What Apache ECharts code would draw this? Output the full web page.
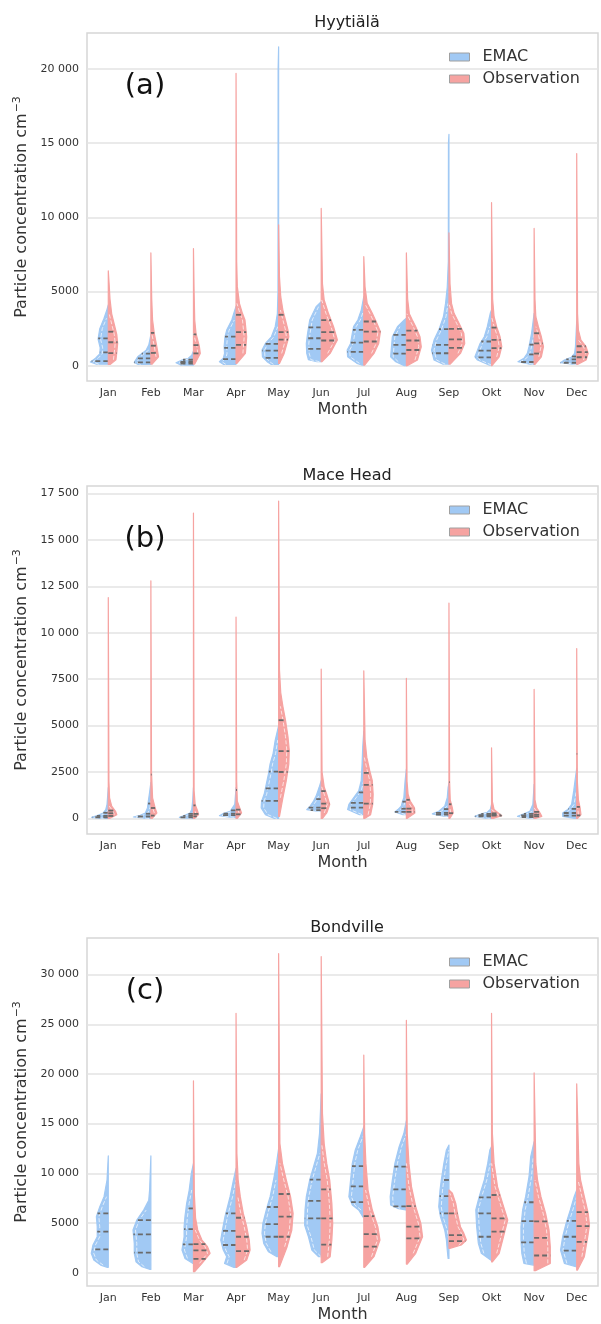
<!DOCTYPE html>
<html>
<head>
<meta charset="utf-8">
<script src="https://cdn.jsdelivr.net/npm/echarts@6/dist/echarts.min.js"></script>
<style>
    html, body { margin: 0; padding: 0; background: #fff; }
    #chart { width: 601px; height: 1324px; }
</style>
</head>
<body>
<div id="chart"></div>
<script>
var months = ['Jan', 'Feb', 'Mar', 'Apr', 'May', 'Jun', 'Jul', 'Aug', 'Sep', 'Okt', 'Nov', 'Dec'];
var seriesNames = ['EMAC', 'Observation'];

// violin profiles: per month a list of [concentration, half width (share of the month band)]
// Hyytiälä
var hyyEmac = [
    [[100,0.28],[250,0.42],[500,0.3],[800,0.2],[1200,0.19],[1800,0.24],[2500,0.2],[3200,0.1],[3700,0.04],[4100,0]],
    [[90,0.3],[225,0.39],[600,0.31],[830,0.21],[1050,0.11],[1390,0.05],[1800,0.02],[2100,0]],
    [[45,0.3],[200,0.41],[380,0.27],[500,0.12],[700,0.04],[1000,0]],
    [[90,0.3],[270,0.39],[500,0.3],[830,0.27],[1280,0.28],[1950,0.26],[2400,0.22],[3080,0.1],[3750,0.03],[4000,0]],
    [[90,0.18],[270,0.27],[600,0.38],[1050,0.39],[1500,0.31],[1950,0.17],[2630,0.08],[3500,0.03],[5000,0.015],[20000,0.012],[21500,0]],
    [[270,0.1],[400,0.3],[830,0.34],[1500,0.35],[2180,0.32],[3080,0.27],[3980,0.12],[4310,0]],
    [[45,0.05],[157,0.16],[600,0.38],[1050,0.39],[1500,0.31],[2180,0.27],[2630,0.24],[3080,0.14],[3750,0.06],[4650,0]],
    [[0,0.05],[270,0.25],[600,0.37],[1280,0.35],[1950,0.33],[2630,0.21],[3080,0.05],[3200,0]],
    [[110,0.15],[380,0.35],[1050,0.41],[1730,0.35],[2400,0.24],[3300,0.13],[4200,0.08],[5300,0.04],[7000,0.015],[15000,0.012],[15600,0]],
    [[45,0.06],[380,0.33],[600,0.39],[1050,0.33],[1500,0.27],[1950,0.17],[2630,0.1],[3530,0.03],[3750,0]],
    [[90,0.08],[270,0.38],[500,0.24],[830,0.16],[1280,0.12],[2180,0.06],[3080,0.02],[3530,0]],
    [[90,0.06],[200,0.38],[380,0.29],[560,0.13],[830,0.05],[1280,0.03],[3000,0]]
];
var hyyEmacQ = [[315,900,1843],[225,500,820],[150,250,400],[440,1200,1960],[530,1020,1470],[1140,1850,2580],
    [930,1560,2410],[820,1400,2080],[840,1400,2460],[560,1020,1630],[250,760,1420],[200,430,620]];
var hyyObs = [
    [[90,0.05],[400,0.18],[900,0.2],[1500,0.22],[2100,0.2],[2800,0.14],[3500,0.08],[4500,0.04],[5500,0.02],[6400,0]],
    [[110,0.03],[600,0.18],[1280,0.14],[2180,0.08],[3080,0.04],[4500,0.02],[7600,0]],
    [[110,0.03],[830,0.16],[1280,0.14],[2180,0.06],[3080,0.03],[5000,0.015],[7900,0]],
    [[150,0.02],[830,0.22],[1950,0.25],[3080,0.21],[3530,0.15],[4200,0.08],[5330,0.03],[7000,0.015],[19700,0]],
    [[157,0.02],[830,0.13],[1950,0.24],[2400,0.22],[3080,0.16],[3750,0.1],[4650,0.05],[6000,0.02],[9500,0]],
    [[270,0.02],[830,0.21],[1730,0.38],[2630,0.29],[3530,0.17],[4430,0.07],[5500,0.03],[10600,0]],
    [[45,0.02],[830,0.24],[1500,0.35],[2290,0.39],[2850,0.31],[3530,0.2],[4200,0.08],[5300,0.03],[7350,0]],
    [[0,0.02],[380,0.26],[1280,0.35],[1950,0.32],[2630,0.22],[3080,0.14],[3500,0.07],[4500,0.03],[7600,0]],
    [[110,0.03],[830,0.27],[1500,0.37],[2180,0.35],[2850,0.24],[3530,0.12],[4200,0.06],[5500,0.025],[8950,0]],
    [[0,0.01],[600,0.18],[1280,0.24],[1950,0.2],[2630,0.12],[3300,0.06],[4500,0.025],[11000,0]],
    [[90,0.02],[600,0.17],[1280,0.22],[1950,0.17],[2630,0.1],[3300,0.04],[4500,0.02],[9250,0]],
    [[90,0.02],[380,0.22],[830,0.27],[1280,0.22],[1730,0.1],[2400,0.04],[3500,0.02],[14300,0]]
];
var hyyObsQ = [[850,1580,2290],[860,1350,2210],[830,1390,2110],[1400,2260,3430],[1760,2260,3430],[1700,2260,3070],
    [1630,2300,2980],[1060,1700,2360],[1200,1780,2480],[1180,1740,2570],[820,1500,2190],[570,910,1310]];

// Mace Head
var maceEmac = [
    [[0,0.15],[55,0.39],[146,0.26],[290,0.12],[475,0.06],[750,0.03],[1660,0]],
    [[0,0.1],[73,0.41],[164,0.25],[290,0.13],[565,0.08],[930,0.06],[1400,0.03],[1940,0]],
    [[0,0.1],[55,0.33],[146,0.22],[290,0.08],[475,0.04],[900,0.02],[1660,0]],
    [[55,0.1],[146,0.39],[255,0.3],[383,0.14],[750,0.03],[1660,0]],
    [[0,0.1],[200,0.31],[565,0.41],[930,0.4],[1300,0.34],[1840,0.29],[2390,0.24],[2940,0.2],[3490,0.13],[4220,0.08],[5000,0]],
    [[383,0.1],[475,0.34],[660,0.26],[930,0.18],[1200,0.12],[1660,0.05],[2030,0]],
    [[200,0.1],[475,0.38],[750,0.35],[1110,0.24],[1480,0.12],[2030,0.06],[2940,0.04],[3850,0.025],[4700,0]],
    [[200,0.08],[350,0.27],[475,0.2],[660,0.12],[930,0.09],[1110,0.06],[2030,0.03],[2660,0]],
    [[110,0.1],[240,0.39],[380,0.24],[660,0.1],[1110,0.04],[1660,0.02],[1900,0]],
    [[0,0.1],[110,0.39],[240,0.24],[330,0.1],[475,0.03],[750,0]],
    [[0,0.08],[110,0.39],[240,0.24],[383,0.1],[750,0.03],[1840,0]],
    [[0,0.05],[110,0.33],[290,0.33],[475,0.21],[750,0.12],[1480,0.07],[2030,0.04],[2700,0]]
];
var maceEmacQ = [[60,140,300],[100,250,800],[55,130,240],[180,260,430],[940,1620,2520],[440,580,1040],
    [580,840,1400],[350,520,900],[210,300,500],[110,170,240],[75,165,240],[146,290,510]];
var maceObs = [
    [[0,0.03],[200,0.2],[383,0.17],[660,0.08],[1110,0.03],[2000,0.015],[11900,0]],
    [[0,0.03],[290,0.14],[565,0.1],[1110,0.04],[2500,0.015],[12800,0]],
    [[0,0.03],[200,0.12],[380,0.1],[750,0.04],[1500,0.015],[16450,0]],
    [[0,0.03],[290,0.13],[475,0.1],[930,0.03],[2000,0.015],[10850,0]],
    [[110,0.02],[1110,0.1],[2030,0.18],[2940,0.24],[3670,0.25],[4400,0.22],[5310,0.16],[6040,0.1],[6770,0.05],[8000,0.02],[17100,0]],
    [[0,0.03],[290,0.13],[750,0.2],[1300,0.13],[1700,0.07],[2500,0.02],[8050,0]],
    [[0,0.02],[200,0.16],[750,0.21],[1300,0.22],[2030,0.2],[2570,0.14],[3300,0.07],[4200,0.03],[7950,0]],
    [[0,0.02],[290,0.2],[565,0.19],[930,0.09],[1300,0.04],[2000,0.015],[7550,0]],
    [[0,0.02],[290,0.1],[565,0.08],[1000,0.03],[2000,0.015],[11600,0]],
    [[0,0.04],[146,0.24],[290,0.16],[475,0.06],[900,0.02],[3800,0]],
    [[0,0.03],[110,0.18],[290,0.14],[565,0.06],[1000,0.02],[6950,0]],
    [[0,0.02],[200,0.1],[565,0.08],[1000,0.04],[2000,0.015],[9150,0]]
];
var maceObsQ = [[130,275,420],[150,560,2360],[110,240,700],[220,470,1530],[2500,3620,5290],[550,800,1470],
    [800,1800,2450],[350,530,1000],[280,760,1950],[146,200,270],[110,200,350],[160,620,3480]];

// Bondville
var bondEmac = [
    [[540,0.02],[770,0.18],[1275,0.34],[1950,0.4],[2790,0.36],[3620,0.26],[4630,0.26],[5640,0.28],[6640,0.2],[7650,0.1],[9330,0.03],[11750,0]],
    [[335,0.02],[600,0.21],[1110,0.35],[1950,0.39],[2950,0.39],[4300,0.42],[5300,0.33],[6300,0.17],[7300,0.05],[8320,0.03],[11750,0]],
    [[940,0.02],[1440,0.2],[2280,0.27],[3620,0.22],[4630,0.22],[5640,0.2],[6980,0.16],[8320,0.1],[10000,0.05],[11000,0]],
    [[540,0.05],[940,0.27],[1610,0.22],[2280,0.3],[3290,0.36],[4300,0.32],[5640,0.26],[7650,0.14],[9330,0.06],[10500,0]],
    [[1610,0.04],[2110,0.24],[2950,0.35],[3960,0.39],[4970,0.37],[6310,0.29],[7650,0.2],[9330,0.12],[11000,0.05],[12500,0]],
    [[1610,0.06],[2280,0.22],[3620,0.3],[4800,0.39],[6310,0.38],[7650,0.35],[9330,0.27],[10670,0.18],[12000,0.09],[14000,0.04],[18000,0]],
    [[5600,0.02],[6310,0.12],[6810,0.27],[7650,0.35],[9330,0.31],[11000,0.27],[12350,0.2],[13700,0.08],[14700,0]],
    [[6310,0.02],[6480,0.21],[6810,0.37],[7650,0.38],[9330,0.33],[11000,0.27],[12690,0.17],[14000,0.06],[15300,0]],
    [[1440,0.02],[2280,0.04],[3290,0.06],[4300,0.1],[5640,0.2],[6640,0.24],[8320,0.21],[9330,0.18],[11000,0.12],[12350,0.06],[12850,0]],
    [[1275,0.02],[1950,0.24],[2950,0.31],[4630,0.35],[6310,0.37],[7650,0.29],[9330,0.17],[11000,0.09],[12350,0.04],[12700,0]],
    [[770,0.02],[940,0.24],[1950,0.29],[3290,0.31],[4630,0.31],[6310,0.27],[7650,0.2],[9660,0.12],[11680,0.08],[13200,0]],
    [[600,0.02],[940,0.29],[2280,0.38],[3620,0.33],[4970,0.25],[6310,0.15],[7650,0.06],[8320,0]]
];
var bondEmacQ = [[2350,4130,5980],[2030,3860,5290],[2850,4390,6470],[2790,4200,5970],[3620,4880,6610],[5470,7230,9360],
    [7100,8690,10720],[6680,8390,10670],[5970,7710,9330],[3620,5970,7580],[3060,5190,7090],[2220,3620,5220]];
var bondObs = [
    [],
    [],
    [[100,0.03],[940,0.2],[1950,0.39],[2620,0.33],[3290,0.2],[4300,0.1],[5500,0.05],[8000,0.02],[19300,0]],
    [[540,0.02],[1275,0.25],[2280,0.33],[3290,0.31],[4630,0.25],[5970,0.17],[7650,0.1],[9330,0.05],[12000,0.02],[26100,0]],
    [[600,0.02],[2620,0.2],[4300,0.31],[5970,0.34],[7650,0.28],[9330,0.18],[11000,0.09],[13000,0.03],[32100,0]],
    [[1010,0.02],[1610,0.21],[3290,0.25],[4970,0.27],[6980,0.25],[9330,0.2],[11000,0.13],[13000,0.07],[16000,0.03],[31800,0]],
    [[540,0.02],[1610,0.24],[3290,0.38],[4630,0.33],[6310,0.2],[8320,0.1],[11000,0.05],[14000,0.02],[21900,0]],
    [[870,0.02],[1950,0.22],[3620,0.38],[4970,0.34],[6650,0.22],[8660,0.12],[11000,0.06],[14000,0.02],[25400,0]],
    [[2450,0.02],[2790,0.29],[3290,0.41],[3960,0.35],[4630,0.27],[5970,0.2],[6980,0.16],[7990,0.08],[8320,0]],
    [[1100,0.02],[1950,0.18],[3620,0.28],[5300,0.38],[6980,0.26],[8660,0.14],[11000,0.06],[14000,0.02],[26100,0]],
    [[200,0.03],[940,0.38],[2620,0.38],[4300,0.35],[5970,0.27],[7650,0.16],[9330,0.08],[11000,0.04],[20100,0]],
    [[270,0.02],[1610,0.18],[3620,0.26],[4800,0.3],[5970,0.27],[7650,0.18],[9330,0.09],[11000,0.05],[19000,0]]
];
var bondObsQ = [[],[],[1400,2250,2880],[2180,3620,5530],[3620,5640,7920],[2820,5470,8380],
    [2620,3890,5700],[3460,4630,6710],[3180,3790,5970],[4130,5470,7820],[1730,3510,5160],[3100,4680,6090]];

var hyyTicks = [0, 5000, 10000, 15000, 20000];
var maceTicks = [0, 2500, 5000, 7500, 10000, 12500, 15000, 17500];
var bondTicks = [0, 5000, 10000, 15000, 20000, 25000, 30000];

var panels = [
    { title: 'Hyytiälä', tag: '(a)', emac: hyyEmac, emacQ: hyyEmacQ, obs: hyyObs, obsQ: hyyObsQ, ticks: hyyTicks, min: -1031, max: 22426, top: 33 },
    { title: 'Mace Head', tag: '(b)', emac: maceEmac, emacQ: maceEmacQ, obs: maceObs, obsQ: maceObsQ, ticks: maceTicks, min: -842, max: 17911, top: 486 },
    { title: 'Bondville', tag: '(c)', emac: bondEmac, emacQ: bondEmacQ, obs: bondObs, obsQ: bondObsQ, ticks: bondTicks, min: -1337, max: 33679, top: 938 }
];

var blue = '#a1c9f4', red = '#f6a3a1';
var font = 'DejaVu Sans';

function widthAt(prof, v) {
    for (var k = 1; k < prof.length; k++) {
        if (v <= prof[k][0]) {
            var a = prof[k - 1], b = prof[k];
            var t = (v - a[0]) / (b[0] - a[0] || 1);
            return a[1] + t * (b[1] - a[1]);
        }
    }
    return 0;
}

function violin(profiles, quarts, side, fill) {
    return function (params, api) {
        var i = api.value(0);
        var prof = profiles[i];
        if (!prof || !prof.length) return null;
        var band = api.size([1, 0])[0];
        var cx = api.coord([i, 0])[0];
        var outer = [], inner = [];
        prof.forEach(function (p) {
            var y = api.coord([i, p[0]])[1];
            outer.push([cx + side * p[1] * band, y]);
            if (p[1] >= 0.06) inner.push([cx + side * (p[1] * band - 2.5), y]);
        });
        var yb = outer[0][1], yt = outer[outer.length - 1][1];
        var shape = outer.concat([[cx, yt], [cx, yb]]);
        var children = [{
            type: 'polygon',
            shape: { points: shape },
            style: { fill: fill, stroke: fill, lineWidth: 1.2, lineJoin: 'round' }
        }];
        if (inner.length > 1) {
            children.push({
                type: 'polyline',
                shape: { points: inner },
                style: { fill: null, stroke: '#ffffff', lineWidth: 0.8, lineDash: [4, 2], opacity: 0.85 }
            });
        }
        (quarts[i] || []).forEach(function (q) {
            var y = api.coord([i, q])[1];
            var w = widthAt(prof, q) * band;
            children.push({
                type: 'line',
                shape: { x1: cx, y1: y, x2: cx + side * w, y2: y },
                style: { stroke: '#6a6a6a', lineWidth: 1.8, lineDash: [5, 3] }
            });
        });
        return { type: 'group', children: children };
    };
}

function fmt(v) {
    if (v >= 10000) {
        var s = String(v);
        return s.slice(0, s.length - 3) + ' ' + s.slice(s.length - 3);
    }
    return String(v);
}

var grids = [], xAxes = [], yAxes = [], series = [], titles = [], legends = [];
panels.forEach(function (p, n) {
    grids.push({ left: 87, right: 3, top: p.top, height: 348, show: true, borderColor: '#d6d6d6', borderWidth: 1.5, backgroundColor: 'transparent' });
    xAxes.push({
        type: 'category', gridIndex: n, data: months, boundaryGap: true,
        name: 'Month', nameLocation: 'middle', nameGap: 21,
        nameTextStyle: { fontFamily: font, fontSize: 16, color: '#333' },
        axisLine: { show: false }, axisTick: { show: false },
        axisLabel: { fontFamily: font, fontSize: 11, color: '#333', margin: 7 },
        splitLine: { show: false }
    });
    yAxes.push({
        type: 'value', gridIndex: n, min: p.min, max: p.max,
        name: '{a|Particle concentration cm}{s|\u22123}', nameLocation: 'middle', nameGap: 55,
        nameTextStyle: { rich: {
            a: { fontFamily: font, fontSize: 16, color: '#333' },
            s: { fontFamily: font, fontSize: 11, color: '#333', verticalAlign: 'top', padding: [0, 0, 8, 1] }
        } },
        axisLine: { show: false },
        axisTick: { show: false, customValues: p.ticks },
        axisLabel: { customValues: p.ticks, formatter: fmt, fontFamily: font, fontSize: 11, color: '#333', margin: 8 },
        splitLine: { show: true, lineStyle: { color: '#e3e3e3', width: 1.5 } }
    });
    titles.push({ text: p.title, left: 342, top: p.top - 23, textAlign: 'center',
        textStyle: { fontFamily: font, fontSize: 16, fontWeight: 'normal', color: '#222' } });
    titles.push({ text: p.tag, left: 140, top: p.top + 34, textAlign: 'center',
        textStyle: { fontFamily: font, fontSize: 29, fontWeight: 'normal', color: '#111' } });
    legends.push({
        data: seriesNames, orient: 'vertical', left: 444, top: p.top + 11, itemGap: 6,
        itemWidth: 20, itemHeight: 8, icon: 'rect', selectedMode: false,
        itemStyle: { borderColor: '#a0a0a0', borderWidth: 1 },
        textStyle: { fontFamily: font, fontSize: 16, color: '#333', padding: [0, 0, 0, 8] }
    });
    var idx = months.map(function (m, i) { return [i]; });
    series.push({
        name: 'EMAC', type: 'custom', xAxisIndex: n, yAxisIndex: n, data: idx,
        itemStyle: { color: blue }, renderItem: violin(p.emac, p.emacQ, -1, blue)
    });
    series.push({
        name: 'Observation', type: 'custom', xAxisIndex: n, yAxisIndex: n, data: idx,
        itemStyle: { color: red }, renderItem: violin(p.obs, p.obsQ, 1, red)
    });
});

var chart = echarts.init(document.getElementById('chart'), null, { renderer: 'canvas' });
chart.setOption({
    animation: false,
    backgroundColor: '#ffffff',
    title: titles,
    legend: legends,
    grid: grids,
    xAxis: xAxes,
    yAxis: yAxes,
    tooltip: { show: false },
    series: series
});
</script>
</body>
</html>
